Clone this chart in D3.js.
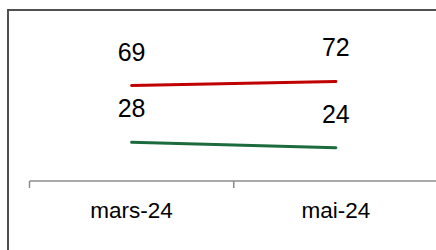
<!DOCTYPE html>
<html>
<head>
<meta charset="utf-8">
<script src="https://cdn.jsdelivr.net/npm/d3@7"></script>
<style>
  html, body { margin: 0; padding: 0; background: #fff; overflow: hidden; }
  svg { display: block; font-family: "Liberation Sans", Arial, sans-serif; }
</style>
</head>
<body>
<div class="canvas"></div>
<script>
// data
var categories = ['mars-24', 'mai-24']
var redValues = [69, 72]
var greenValues = [28, 24]

var width = 436, height = 250

var svg = d3.select(".canvas").append("svg").attr("width", width).attr("height", height)

// chart frame (runs off the right and bottom edges)
svg.append('path')
    .attr('d', 'M8,' + (height + 5) + 'V10H' + (width + 5))
    .attr('fill', 'none')
    .attr('stroke', '#505050')
    .attr('stroke-width', 2)

var x = d3.scaleBand().domain(categories).range([29.5, 438])
var y = d3.scaleLinear().domain([0, 100]).range([181, 42.7])

// x axis
var axis = svg.append('g')
    .attr('transform', 'translate(0,181)')
    .call(d3.axisBottom(x).tickSize(0).tickPadding(21))

axis.select('.domain').remove()
axis.selectAll('text')
    .attr('font-size', 22.5)
    .attr('font-family', '"Liberation Sans", Arial, sans-serif')
    .attr('fill', 'black')

axis.append('line')
    .attr('x1', 29.5).attr('x2', 438)
    .attr('y1', 0).attr('y2', 0)
    .attr('stroke', '#8c8c8c')
    .attr('stroke-width', 1.5)

// tick marks at the band edges
var edges = categories.map(function(c) { return x(c) }).concat([x(categories[categories.length - 1]) + x.bandwidth()])
axis.selectAll('.edge')
    .data(edges)
    .enter().append('line')
    .attr('class', 'edge')
    .attr('x1', function(d) { return d })
    .attr('x2', function(d) { return d })
    .attr('y1', 0).attr('y2', 7)
    .attr('stroke', '#8c8c8c')
    .attr('stroke-width', 1.5)

function cx(c) { return x(c) + x.bandwidth() / 2 }

function drawSeries(values, color) {
    var pts = categories.map(function(c, i) { return {c: c, v: values[i]} })
    var line = d3.line()
        .x(function(d) { return cx(d.c) })
        .y(function(d) { return y(d.v) })

    svg.append('path')
        .datum(pts)
        .attr('d', line)
        .attr('fill', 'none')
        .attr('stroke', color)
        .attr('stroke-width', 3)
        .attr('stroke-linecap', 'round')

    svg.selectAll(null)
        .data(pts)
        .enter().append('text')
        .attr('x', function(d) { return cx(d.c) })
        .attr('y', function(d) { return y(d.v) - 25 })
        .attr('text-anchor', 'middle')
        .attr('font-size', 25)
        .attr('fill', 'black')
        .text(function(d) { return d.v })
}

drawSeries(redValues, '#C00000')
drawSeries(greenValues, '#1B6B3D')
</script>
</body>
</html>
